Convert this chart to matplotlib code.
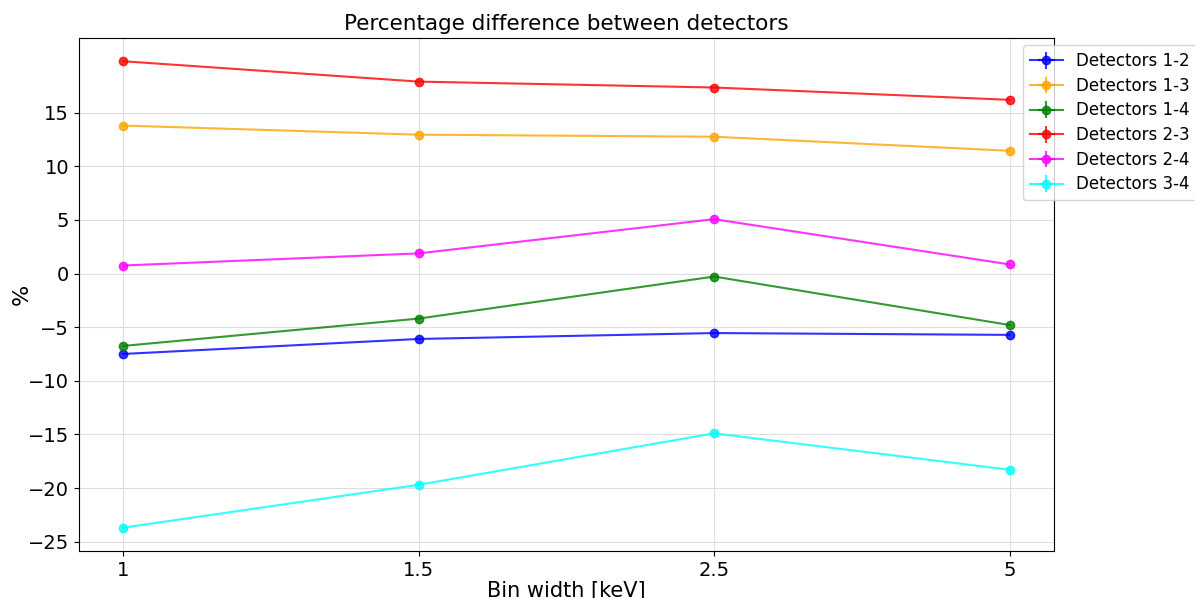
import numpy as np
import matplotlib
matplotlib.use("Agg")
import matplotlib.pyplot as plt

bin_widths = ["1", "1.5", "2.5", "5"]
labels = ["Detectors 1-2", "Detectors 1-3", "Detectors 1-4",
          "Detectors 2-3", "Detectors 2-4", "Detectors 3-4"]
colors = ["blue", "orange", "green", "red", "magenta", "cyan"]
d12 = [-7.5, -6.1, -5.55, -5.72]
d13 = [13.8, 12.95, 12.76, 11.45]
d14 = [-6.75, -4.2, -0.28, -4.8]
d23 = [19.8, 17.9, 17.35, 16.2]
d24 = [0.75, 1.88, 5.07, 0.85]
d34 = [-23.7, -19.7, -14.9, -18.3]
series = [d12, d13, d14, d23, d24, d34]
yticks = [-25, -20, -15, -10, -5, 0, 5, 10, 15]

fig = plt.figure(figsize=(11.95, 5.98), dpi=100)
ax = fig.add_axes([0.066, 0.0786, 0.816, 0.858])
x = np.arange(len(bin_widths))
for vals, lab, c in zip(series, labels, colors):
    ax.errorbar(x, vals, yerr=np.zeros(len(vals)), xerr=np.zeros(len(vals)),
                color=c, marker='o', markersize=6, label=lab, alpha=0.8)
ax.set_xticks(x)
ax.set_xticklabels(bin_widths)
ax.set_yticks(yticks)
ax.tick_params(labelsize=14)
ax.grid(True, color='#dddddd')
ax.set_axisbelow(True)
ax.set_title("Percentage difference between detectors", fontsize=15.5)
ax.set_xlabel("Bin width [keV]", fontsize=15, labelpad=1)
ax.set_ylabel("%", fontsize=16, labelpad=-3)
fig.legend(loc='upper left', bbox_to_anchor=(0.856, 0.924), fontsize=12,
           borderaxespad=0, labelspacing=0.4)
fig.savefig("out.png", dpi=100)
